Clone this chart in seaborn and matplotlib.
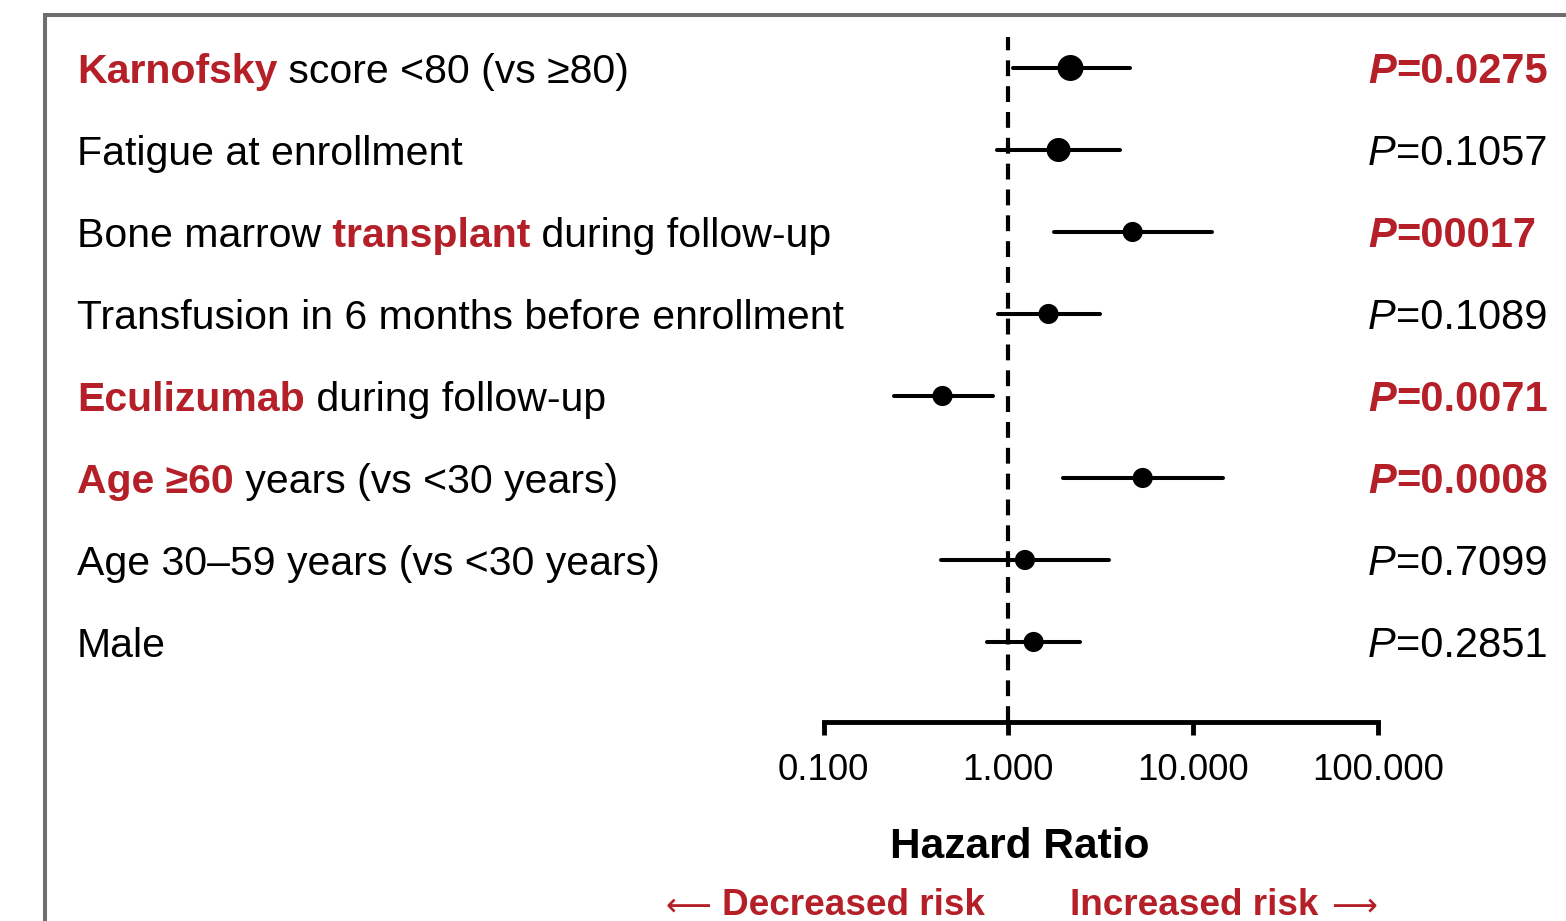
import numpy as np
import pandas as pd
import seaborn as sns
import matplotlib
matplotlib.use("Agg")
import matplotlib.pyplot as plt
from matplotlib.patches import Rectangle

# ---------------- data ----------------
label_parts = [
    [("Karnofsky", True), (" score <80 (vs ≥80)", False)],
    [("Fatigue at enrollment", False)],
    [("Bone marrow", False), (" transplant", True), (" during follow-up", False)],
    [("Transfusion in 6 months before enrollment", False)],
    [("Eculizumab", True), (" during follow-up", False)],
    [("Age ≥60", True), (" years (vs <30 years)", False)],
    [("Age 30–59 years (vs <30 years)", False)],
    [("Male", False)],
]
hazard_ratio = [2.17, 1.87, 4.71, 1.65, 0.44, 5.34, 1.23, 1.37]
ci_low = [1.055, 0.865, 1.76, 0.875, 0.239, 1.97, 0.43, 0.763]
ci_high = [4.54, 4.01, 12.6, 3.12, 0.822, 14.5, 3.49, 2.43]
p_values = ["0.0275", "0.1057", "00017", "0.1089", "0.0071", "0.0008", "0.7099", "0.2851"]
significant = [True, False, True, False, True, True, False, False]
x_ticks = [0.1, 1, 10, 100]
x_tick_labels = ["0.100", "1.000", "10.000", "100.000"]
x_title = "Hazard Ratio"
left_note, right_note = "Decreased risk", "Increased risk"
left_arrow, right_arrow = "⟵", "⟶"

# ---------------- style ----------------
marker_area = [350, 300, 210, 210, 210, 210, 210, 210]
RED = "#B41F28"
W, H = 1566, 921
FONT = ["Liberation Sans", "DejaVu Sans"]

sns.set_theme(style="white")
plt.rcParams["font.family"] = FONT

fig = plt.figure(figsize=(W / 100, H / 100), dpi=100)
fig.patch.set_facecolor("white")

ax_left, ax_right, ax_top, ax_bottom = 823.7, 1377.7, 37, 722
ax = fig.add_axes([ax_left / W, 1 - ax_bottom / H, (ax_right - ax_left) / W, (ax_bottom - ax_top) / H])
ax.set_facecolor("none")

n = len(hazard_ratio)
df = pd.DataFrame({"row": np.arange(n), "hr": hazard_ratio, "lo": ci_low, "hi": ci_high})

ax.set_xscale("log")
ax.axvline(1, color="black", lw=3, dashes=(3.8, 2.4), zorder=1)
ax.hlines(df["row"], df["lo"], df["hi"], color="black", lw=2.9, capstyle="round", zorder=2)
sns.scatterplot(data=df, x="hr", y="row", s=marker_area, color="black", linewidth=0,
                ax=ax, legend=False, zorder=3)

ax.set_xlim(0.1, 100)
ax.set_ylim(7.976, -0.378)
ax.set_xlabel("")
ax.set_ylabel("")
ax.set_yticks([])
ax.set_xticks(x_ticks)
ax.set_xticklabels(x_tick_labels)
ax.xaxis.set_minor_locator(matplotlib.ticker.NullLocator())
for s in ["top", "left", "right"]:
    ax.spines[s].set_visible(False)
ax.spines["bottom"].set_linewidth(3.5)
ax.spines["bottom"].set_color("black")
ax.spines["bottom"].set_capstyle("projecting")
ax.tick_params(axis="x", which="major", direction="out", length=9, width=3.5,
               color="black", labelsize=26.5, pad=13, labelcolor="black", bottom=True)

# frame
fig.add_artist(Rectangle((45 / W, -0.1), 1.2, (1 - 15 / H) + 0.1, transform=fig.transFigure,
                         fill=False, edgecolor="#6E6E6E", lw=2.9))

renderer = fig.canvas.get_renderer()


def draw_parts(x_px, y_base_disp, parts, size):
    x = x_px
    for txt, kw in parts:
        t = fig.text(x / W, y_base_disp / H, txt, fontsize=size, va="baseline", ha="left",
                     family=FONT, **kw)
        x += t.get_window_extent(renderer).width


LABEL_SIZE = 29.5
P_SIZE = 30
for i in range(n):
    yc = ax.transData.transform((1, i))[1]
    base = yc - 15
    parts = []
    for txt, hl in label_parts[i]:
        if hl:
            parts.append((txt, dict(color=RED, fontweight="bold")))
        else:
            parts.append((txt, dict(color="black")))
    draw_parts(77, base, parts, LABEL_SIZE)
    if significant[i]:
        pp = [("P", dict(color=RED, fontweight="bold", style="italic")),
              ("=" + p_values[i], dict(color=RED, fontweight="bold"))]
    else:
        pp = [("P", dict(color="black", style="italic")),
              ("=" + p_values[i], dict(color="black"))]
    draw_parts(1368, base, pp, P_SIZE)

fig.text(1020 / W, 1 - 847 / H, x_title, fontsize=30.5, fontweight="bold",
         ha="center", va="center", color="black")

note_base = 1 - 915 / H
fig.text(985 / W, note_base, left_note, fontsize=26.6, fontweight="bold",
         ha="right", va="baseline", color=RED)
fig.text(1070 / W, note_base, right_note, fontsize=26.6, fontweight="bold",
         ha="left", va="baseline", color=RED)
fig.text(711 / W, note_base, left_arrow, fontsize=23, ha="right", va="baseline",
         color=RED, family=["DejaVu Sans"])
fig.text(1331 / W, note_base, right_arrow, fontsize=23, ha="left", va="baseline",
         color=RED, family=["DejaVu Sans"])

fig.savefig("out.png", dpi=100, facecolor="white")
